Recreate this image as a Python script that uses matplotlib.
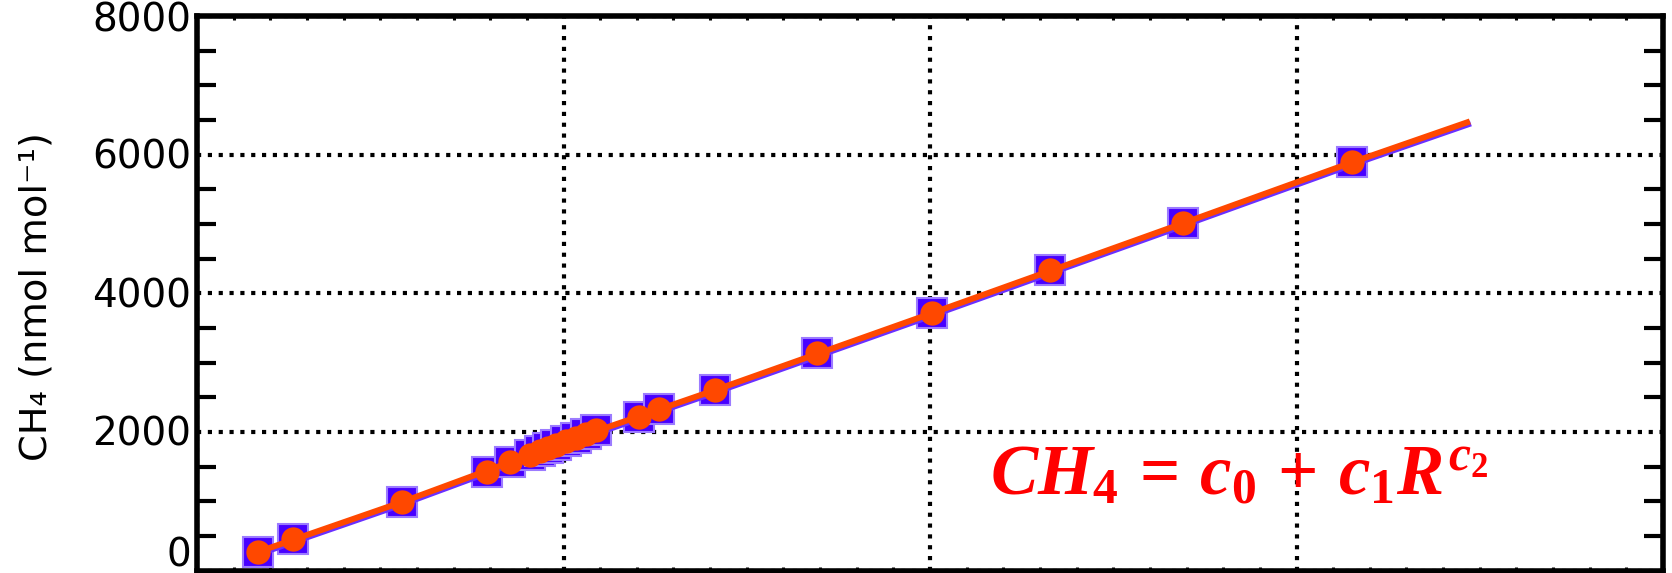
import matplotlib
matplotlib.use('Agg')
import matplotlib.pyplot as plt
import matplotlib.transforms as mtransforms
from matplotlib.ticker import MultipleLocator, FixedLocator, NullFormatter

# ---- data (x in units of the major grid spacing) ----
ratio_x = [0.166, 0.262, 0.559, 0.791, 0.854,
           0.909, 0.936, 0.958, 0.980, 1.007, 1.034, 1.061, 1.089,
           1.206, 1.261, 1.413, 1.692, 2.005, 2.327, 2.690, 3.151]
ch4_y = [267, 454, 987, 1420, 1564,
         1671, 1724, 1767, 1809, 1862, 1916, 1970, 2022,
         2213, 2328, 2602, 3135, 3712, 4331, 5009, 5888]

fit_x = [0.166, 0.559, 1.000, 1.413, 2.005, 2.690, 3.151, 3.473]
fit_y = [267, 987, 1848, 2602, 3712, 5009, 5888, 6479]

y_ticks = [0, 2000, 4000, 6000, 8000]
y_tick_labels = ['0', '2000', '4000', '6000', '8000']
y_label_dy_px = [15, -3, -3, -3, -4]

equation = r'$CH_4\,=\,c_0\,+\,c_1R^{c_2}$'
y_label = 'CH₄ (nmol mol⁻¹)'

plt.rcParams['mathtext.fontset'] = 'custom'
plt.rcParams['mathtext.it'] = 'Liberation Serif:italic:bold'
plt.rcParams['mathtext.rm'] = 'Liberation Serif:bold'
plt.rcParams['mathtext.bf'] = 'Liberation Serif:bold'
plt.rcParams['font.family'] = ['DejaVu Sans']

W, H = 1672, 573
fig = plt.figure(figsize=(W / 100, H / 100), dpi=100)
ax = fig.add_axes([197 / W, (H - 570.5) / H, (1663 - 197) / W, (570.5 - 16) / H])
ax.set_xlim(0, 4)
ax.set_ylim(0, 8000)

orange = '#FF4800'
blue = '#4800FF'

ax.plot(ratio_x, ch4_y, ls='none', marker='s', ms=21.5, mfc=blue, mec='#9C7BFF',
        mew=1.5, zorder=3)
shift = mtransforms.ScaledTranslation(0.01, -0.02, fig.dpi_scale_trans)
ax.plot(fit_x, fit_y, color='#6A30FF', lw=4.3, transform=ax.transData + shift,
        zorder=4, solid_capstyle='butt')
ax.plot(fit_x, fit_y, color=orange, lw=4.3, zorder=5, solid_capstyle='butt')
ax.plot(ratio_x, ch4_y, ls='none', marker='o', ms=17.5, mfc=orange, mec='none',
        zorder=6)

# ticks
ax.xaxis.set_major_locator(MultipleLocator(1))
ax.xaxis.set_minor_locator(MultipleLocator(0.1))
ax.yaxis.set_major_locator(FixedLocator(y_ticks))
ax.yaxis.set_minor_locator(MultipleLocator(500))
ax.tick_params(which='major', axis='both', length=0, direction='in',
               top=True, right=True, labelbottom=False, labelleft=False)
ax.tick_params(axis='y', which='minor', length=14, width=3, direction='in',
               left=True, right=True, color='black')
ax.tick_params(axis='x', which='minor', length=3, width=2.2, direction='in',
               top=True, bottom=True, color='black')
ax.xaxis.set_minor_formatter(NullFormatter())
ax.yaxis.set_minor_formatter(NullFormatter())

ax.grid(True, which='major', color='black', lw=3, linestyle=(0, (1, 1.6)))
ax.set_axisbelow(True)
for s in ax.spines.values():
    s.set_linewidth(4)
    s.set_zorder(10)

# y tick labels as text tied to the y scale
blend = mtransforms.blended_transform_factory(ax.transAxes, ax.transData)
for val, lab, dy in zip(y_ticks, y_tick_labels, y_label_dy_px):
    off = mtransforms.ScaledTranslation(-6 / 100, dy / 100, fig.dpi_scale_trans)
    ax.text(0, val, lab, transform=blend + off, ha='right', va='center',
            fontsize=28, clip_on=False)

fig.text(37 / W, 1 - 296.5 / H, y_label, rotation=90, ha='center', va='center',
         fontsize=27.6)

fig.text(990 / W, 1 - 495 / H, equation, color='red', fontsize=51,
         ha='left', va='baseline')

fig.savefig('out.png', dpi=100)
